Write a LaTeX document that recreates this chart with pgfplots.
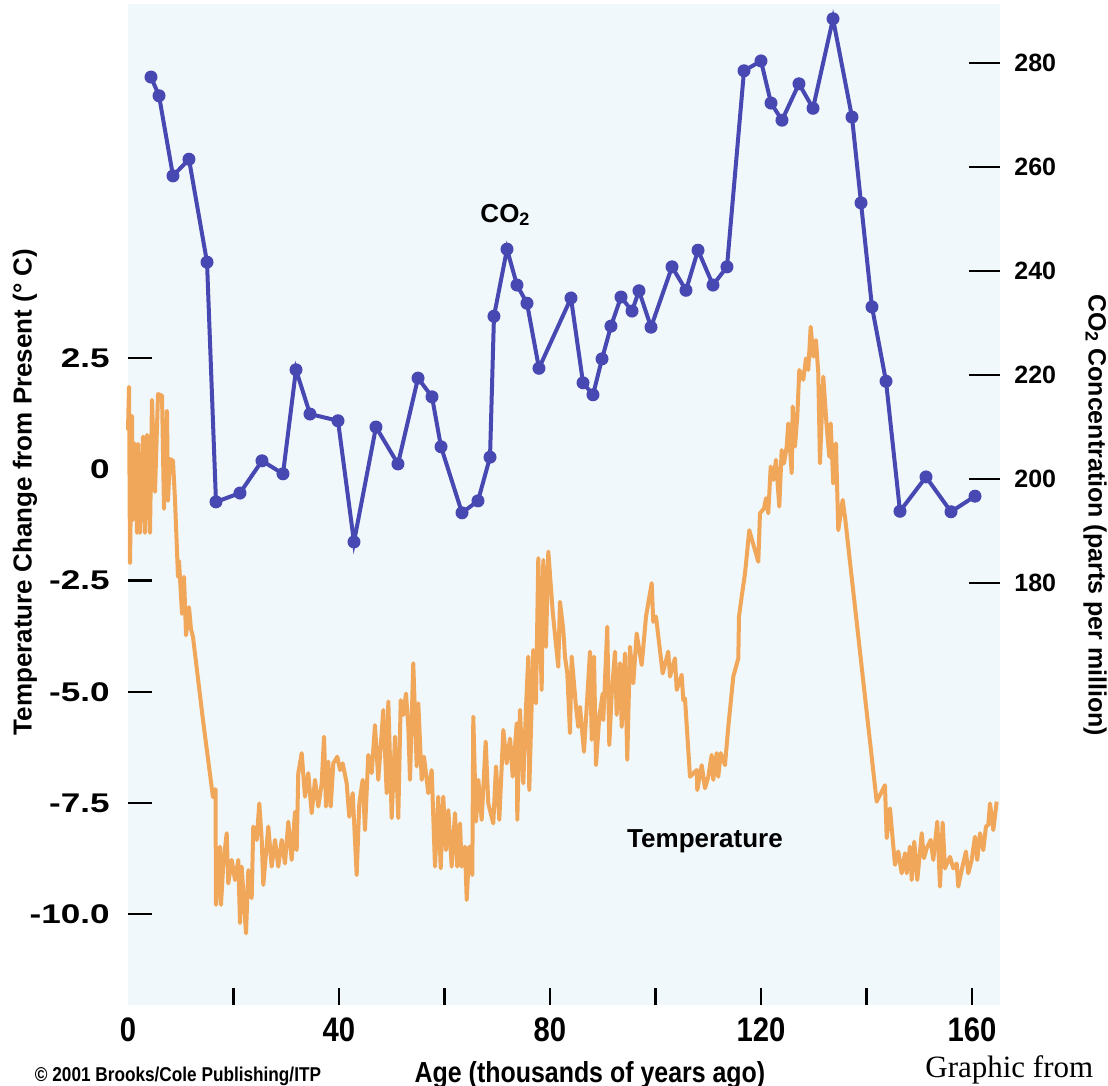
\documentclass[border=0pt]{standalone}
\usepackage{fontspec}
\setmainfont{Liberation Sans}
\newfontfamily\condfont[FakeStretch=0.86]{Liberation Sans}
\newfontfamily\widefont[FakeStretch=1.3]{Liberation Sans}
\newfontfamily\seriffont{Liberation Serif}
\usepackage{pgfplots}
\pgfplotsset{compat=1.18}
\definecolor{bgblue}{RGB}{241,248,251}
\definecolor{co2blue}{RGB}{72,72,178}
\definecolor{temporange}{RGB}{240,167,90}
\begin{document}
\begin{tikzpicture}
\useasboundingbox (-64pt,-40.5pt) rectangle (490pt,502.5pt);
% ---------------- Temperature axis (left) ----------------
\begin{axis}[
  scale only axis, width=436pt, height=500.5pt,
  xmin=0, xmax=165.31, ymin=-12.04, ymax=10.455,
  axis line style={draw=none},
  axis background/.style={fill=bgblue},
  xtick=\empty,
  ytick={-10,-7.5,-5,-2.5,0,2.5},
  yticklabels={-10.0,-7.5,-5.0,-2.5,0,2.5},
  ytick pos=left, yticklabel pos=left,
  tick align=inside, major tick length=12pt,
  ytick style={black, line width=1.1pt},
  yticklabel style={font=\widefont\bfseries\fontsize{13.5}{14}\selectfont, inner sep=0pt, anchor=east, xshift=-9pt},
  ylabel={Temperature Change from Present (° C)},
  every axis y label/.style={at={(axis description cs:-0.1181,0.5125)}, rotate=90, anchor=center, font=\bfseries\fontsize{13}{14}\selectfont},
  clip=false,
]
\addplot[temporange, line width=2pt, line join=round, mark=none] coordinates {
(0.00,0.88) (0.19,1.85) (0.38,-2.11) (0.76,1.20) (0.95,-1.14) (1.33,0.57) (1.71,-1.43) (1.90,0.57)
(2.27,-1.43) (2.84,0.73) (3.22,-1.43) (3.60,0.77) (4.17,-1.43) (4.55,1.56) (5.12,-0.51) (5.69,1.69)
(6.45,1.65) (6.82,-0.89) (7.39,1.31) (7.58,-0.71) (7.96,0.23) (8.53,0.19) (8.91,-0.69) (9.48,-2.42)
(9.67,-2.06) (10.24,-3.25) (10.62,-2.42) (11.00,-3.73) (11.56,-3.10) (11.94,-3.59) (12.32,-3.77)
(14.22,-5.64) (16.11,-7.37) (16.59,-7.19) (16.68,-9.79) (17.44,-8.48) (17.63,-9.79) (18.07,-8.86)
(18.71,-8.18) (19.01,-9.31) (19.66,-8.78) (20.28,-9.23) (20.91,-8.78) (21.23,-10.20) (21.55,-8.93)
(22.37,-10.43) (22.81,-9.01) (23.45,-9.64) (23.75,-8.03) (24.40,-8.33) (24.89,-7.51) (25.35,-8.33)
(25.65,-9.34) (26.60,-8.03) (27.24,-8.93) (27.87,-8.33) (28.49,-8.93) (29.14,-8.33) (29.76,-8.86)
(30.39,-7.92) (31.03,-8.78) (31.66,-7.70) (31.98,-8.56) (32.28,-6.83) (32.93,-6.38) (33.55,-7.36)
(34.18,-6.83) (34.82,-7.73) (35.45,-6.98) (36.08,-7.58) (36.72,-7.06) (37.16,-6.01) (37.54,-7.58)
(37.97,-6.57) (38.43,-7.58) (38.92,-6.61) (39.68,-6.46) (40.19,-6.76) (40.70,-6.61) (41.46,-7.06)
(41.95,-7.81) (42.60,-7.28) (43.35,-9.12) (43.85,-7.51) (44.49,-6.98) (44.93,-8.11) (45.55,-6.42)
(46.20,-6.83) (46.82,-5.75) (47.45,-6.98) (48.40,-5.41) (49.04,-7.28) (49.35,-5.22) (49.99,-7.84)
(50.62,-6.01) (51.24,-7.84) (51.70,-5.19) (52.19,-5.52) (52.70,-5.04) (53.14,-5.79) (53.46,-6.98)
(54.08,-4.36) (54.73,-6.68) (55.03,-5.26) (55.68,-6.98) (56.11,-6.46) (56.93,-7.28) (57.57,-6.76)
(58.20,-8.93) (58.82,-7.36) (59.28,-8.97) (59.77,-7.36) (60.28,-8.56) (60.72,-7.66) (61.36,-8.93)
(61.99,-7.73) (62.42,-8.93) (62.94,-7.96) (63.26,-8.93) (63.88,-8.48) (64.21,-9.68) (64.70,-8.48)
(65.27,-9.12) (65.46,-5.56) (65.97,-7.92) (66.41,-6.98) (67.05,-7.88) (67.81,-6.12) (68.30,-7.51)
(69.25,-7.96) (69.76,-6.68) (70.39,-7.88) (71.15,-5.86) (71.79,-6.61) (72.42,-6.05) (72.93,-6.91)
(73.69,-5.71) (73.80,-7.88) (74.31,-5.41) (74.94,-7.06) (75.45,-5.37) (75.88,-4.21) (76.07,-7.21)
(76.83,-4.06) (77.34,-5.26) (77.78,-2.00) (78.42,-4.96) (78.73,-2.04) (79.24,-3.99) (79.68,-1.85)
(80.51,-3.20) (81.14,-3.95) (81.57,-4.44) (81.89,-2.98) (82.52,-3.61) (82.84,-4.21) (83.28,-4.59)
(83.79,-5.93) (84.11,-4.21) (84.93,-5.34) (85.36,-5.79) (85.69,-5.34) (86.44,-6.35) (86.96,-5.34)
(87.58,-4.10) (87.91,-6.08) (88.34,-4.21) (88.72,-6.65) (89.35,-5.56) (89.99,-5.04) (90.10,-5.64)
(90.86,-3.54) (91.24,-6.20) (91.70,-5.04) (92.32,-4.10) (92.64,-5.52) (93.27,-4.36) (93.59,-5.79)
(94.21,-4.14) (94.65,-6.53) (95.16,-3.99) (95.79,-4.81) (96.43,-3.69) (97.38,-4.40) (98.20,-3.31)
(99.28,-2.56) (99.58,-3.43) (100.09,-3.31) (101.36,-4.59) (102.42,-4.10) (102.75,-4.66) (103.69,-4.25)
(104.02,-4.96) (104.96,-4.62) (105.27,-5.19) (105.59,-5.15) (106.54,-6.91) (107.81,-6.76) (107.92,-7.21)
(108.76,-6.65) (109.38,-7.17) (110.01,-6.91) (110.65,-6.42) (110.95,-6.98) (111.60,-6.38) (111.90,-6.91)
(112.36,-6.38) (113.17,-6.65) (113.80,-5.79) (114.75,-4.66) (115.70,-4.25) (115.83,-3.31) (116.34,-2.86)
(116.97,-2.34) (117.78,-1.37) (119.49,-2.08) (119.81,-0.99) (120.57,-0.88) (120.95,-0.65) (121.38,-0.99)
(121.84,0.06) (122.33,-0.24) (122.84,0.21) (123.47,-0.84) (123.92,0.43) (124.36,0.13) (124.87,0.51)
(125.17,1.03) (125.82,-0.09) (126.01,1.41) (126.44,0.51) (126.88,1.18) (127.26,2.23) (128.02,2.01)
(128.53,2.49) (128.96,2.23) (129.42,3.20) (129.91,2.53) (130.42,2.90) (130.86,2.16) (131.18,0.13)
(131.81,2.08) (132.45,0.96) (132.95,0.28) (133.21,1.03) (133.70,-0.32) (134.21,0.58) (134.65,-1.37)
(135.49,-0.69) (135.92,-1.07) (141.93,-7.47) (143.50,-7.10) (143.83,-8.29) (144.45,-7.62) (145.40,-8.89)
(146.02,-8.59) (146.67,-9.08) (147.29,-8.63) (147.62,-9.08) (148.24,-8.48) (148.57,-9.23) (149.06,-8.37)
(149.63,-9.23) (150.47,-8.18) (150.90,-8.74) (151.41,-8.52) (152.17,-8.33) (152.66,-8.78) (153.42,-7.92)
(153.93,-9.38) (154.44,-7.94) (154.88,-8.97) (155.83,-8.71) (156.45,-8.97) (157.10,-8.86) (157.40,-9.38)
(158.04,-9.01) (158.86,-8.59) (159.29,-9.08) (159.94,-8.78) (160.56,-8.26) (161.00,-8.78) (161.51,-8.18)
(162.14,-8.56) (162.65,-8.03) (163.09,-7.99) (163.41,-7.51) (164.04,-8.11) (164.68,-7.47)
};
\end{axis}
% ---------------- x tick marks ----------------
\begin{axis}[
  scale only axis, width=436pt, height=500.5pt,
  xmin=0, xmax=165.31, ymin=0, ymax=1,
  axis line style={draw=none},
  xtick={20,40,...,160}, xticklabels={},
  xtick pos=bottom, ytick=\empty,
  tick align=inside, major tick length=8.5pt,
  xtick style={black, line width=1.1pt},
]
\end{axis}
% ---------------- CO2 axis (right) ----------------
\begin{axis}[
  scale only axis, width=436pt, height=500.5pt,
  xmin=0, xmax=165.31, ymin=98.85, ymax=291.35,
  axis line style={draw=none},
  xtick={0,40,80,120,160},
  xticklabels={0,40,80,120,160},
  xtick pos=bottom, xticklabel pos=bottom,
  xtick style={draw=none},
  xticklabel style={font=\condfont\bfseries\fontsize{17}{18}\selectfont, inner sep=0pt, anchor=north, yshift=-6pt},
  ytick={180,200,...,280},
  yticklabels={180,200,220,240,260,280},
  ytick pos=right, yticklabel pos=right,
  tick align=inside, major tick length=15.5pt,
  ytick style={black, line width=1.1pt},
  yticklabel style={font=\bfseries\fontsize{12.5}{13}\selectfont, inner sep=0pt, anchor=west, xshift=7pt},
  ylabel={CO{\fontsize{9}{9}\selectfont\raisebox{-1.5pt}{2}} Concentration (parts per million)},
  every axis y label/.style={at={(axis description cs:1.109,0.4895)}, rotate=-90, anchor=center, font=\bfseries\fontsize{12.5}{14}\selectfont},
  xlabel={Age (thousands of years ago)},
  every axis x label/.style={at={(axis description cs:0.5298,-0.0699)}, anchor=center, font=\condfont\bfseries\fontsize{14.5}{16}\selectfont},
  clip=false,
]
\addplot[co2blue, line width=2pt, mark=*, mark size=3pt, mark options={fill=co2blue, draw=co2blue, line width=0.5pt}] coordinates {
(4.36,277.3) (5.88,273.7) (8.53,258.3) (11.56,261.5) (14.98,241.7) (16.68,195.6) (21.23,197.3)
(25.40,203.5) (29.38,201.0) (31.85,221.0) (34.50,212.5) (39.81,211.2) (42.84,187.9) (47.01,210.0)
(51.18,202.9) (54.98,219.4) (57.63,215.8) (59.34,206.2) (63.32,193.5) (66.35,195.8) (68.63,204.2)
(69.38,231.3) (71.85,244.2) (73.74,237.3) (75.64,233.8) (77.91,221.3) (83.98,234.8) (86.26,218.5)
(88.15,216.2) (89.86,223.1) (91.56,229.4) (93.46,235.0) (95.55,232.3) (96.87,236.2) (99.15,229.2)
(103.13,240.8) (105.78,236.3) (108.06,244.0) (110.90,237.3) (113.55,240.8) (116.78,278.5) (120.00,280.4)
(121.90,272.3) (123.98,269.0) (127.20,276.0) (129.86,271.3) (133.65,288.5) (137.25,269.6) (138.96,253.1)
(141.04,233.1) (143.70,218.8) (146.35,193.8) (151.28,200.4) (156.02,193.7) (160.57,196.7)
};
\end{axis}
% ---------------- annotations ----------------
\node[font=\bfseries\fontsize{13}{14}\selectfont, anchor=center] at (188.5pt,395pt) {CO{\fontsize{9}{9}\selectfont\raisebox{-1.5pt}{2}}};
\node[font=\bfseries\fontsize{13}{14}\selectfont, anchor=center] at (288.5pt,82pt) {Temperature};
\node[font=\condfont\bfseries\fontsize{10}{11}\selectfont, anchor=center] at (25pt,-35.5pt) {© 2001 Brooks/Cole Publishing/ITP};
\node[font=\seriffont\fontsize{15.5}{17}\selectfont, anchor=base west, inner sep=0pt] at (398.5pt,-36.5pt) {Graphic from};
\end{tikzpicture}
\end{document}
